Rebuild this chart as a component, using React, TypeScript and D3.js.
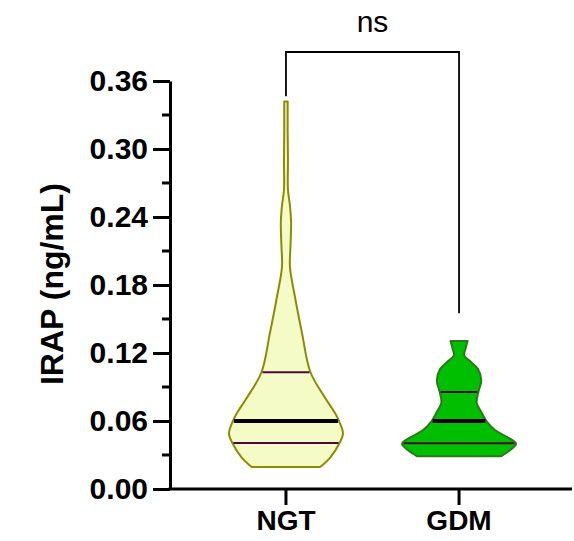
import { useEffect, useRef } from "react";
import * as d3 from "d3";

// groups on the x axis
const groups = ["NGT", "GDM"];

// y axis ticks
const majorTicks = [0, 0.06, 0.12, 0.18, 0.24, 0.3, 0.36];
const minorTicks = [0.03, 0.09, 0.15, 0.21, 0.27, 0.33];

// violin outlines: value and relative half-width
const ngtValues = [0.0194, 0.028, 0.0406, 0.049, 0.06, 0.067, 0.081, 0.103, 0.138, 0.169, 0.196, 0.215, 0.235, 0.25, 0.264, 0.29, 0.315, 0.342];
const ngtWidths = [0.6, 0.78, 0.94, 1.0, 0.93, 0.86, 0.68, 0.43, 0.28, 0.16, 0.07, 0.08, 0.09, 0.07, 0.035, 0.035, 0.03, 0.03];

const gdmValues = [0.029, 0.0344, 0.04, 0.046, 0.052, 0.06, 0.068, 0.076, 0.0856, 0.096, 0.106, 0.112, 0.118, 0.123, 0.1306];
const gdmWidths = [0.74, 0.9, 1.0, 0.84, 0.63, 0.48, 0.39, 0.31, 0.34, 0.39, 0.33, 0.21, 0.09, 0.11, 0.15];

// quartiles [Q1, median, Q3]
const ngtQuartiles = [0.0406, 0.06, 0.103];
const gdmQuartiles = [0.0404, 0.06, 0.0856];

const colors = {
  NGT: { fill: "#f4fbc6", stroke: "#8c8c00" },
  GDM: { fill: "#00bf00", stroke: "#2a7a1a" },
};

const font = "'Liberation Sans', Arial, sans-serif";

const App = () => {
  const svgRef = useRef(null);

  useEffect(() => {
    const width = 574;
    const height = 541;
    const margin = { top: 81, right: 2, bottom: 52, left: 170 };
    const innerHeight = height - margin.top - margin.bottom;

    d3.select(svgRef.current).selectAll("*").remove();
    const svg = d3.select(svgRef.current).attr("width", width).attr("height", height);

    const y = d3.scaleLinear().domain([0, 0.36]).range([margin.top + innerHeight, margin.top]);
    const x = d3
      .scalePoint()
      .domain(groups)
      .range([margin.left, 575])
      .padding(0.67);

    const halfW = 57;

    const violins = [
      { name: "NGT", values: ngtValues, widths: ngtWidths, q: ngtQuartiles },
      { name: "GDM", values: gdmValues, widths: gdmWidths, q: gdmQuartiles },
    ];

    violins.forEach((v) => {
      const cx = x(v.name);
      const pts = v.values.map((val, i) => ({ val, w: v.widths[i] }));
      const area = d3
        .area()
        .y((d) => y(d.val))
        .x0((d) => cx - d.w * halfW)
        .x1((d) => cx + d.w * halfW)
        .curve(d3.curveCatmullRom.alpha(0.5));

      svg
        .append("path")
        .datum(pts)
        .attr("d", area)
        .attr("fill", colors[v.name].fill)
        .attr("stroke", colors[v.name].stroke)
        .attr("stroke-width", 2)
        .attr("stroke-linejoin", "round");

      // width of violin at a value (linear interp of the outline)
      const widthAt = d3.scaleLinear().domain(v.values).range(v.widths);

      v.q.forEach((qv, i) => {
        const w = widthAt(qv) * halfW - 1;
        svg
          .append("line")
          .attr("x1", cx - w)
          .attr("x2", cx + w)
          .attr("y1", y(qv))
          .attr("y2", y(qv))
          .attr("stroke", i === 1 ? "#000" : "#4a0a40")
          .attr("stroke-width", i === 1 ? 4 : 2);
      });
    });

    // y axis
    const yAxis = svg.append("g").attr("transform", `translate(${margin.left},0)`);
    yAxis
      .call(d3.axisLeft(y).tickValues(majorTicks).tickSize(17).tickSizeOuter(0).tickFormat(d3.format(".2f")))
      .call((g) => g.select(".domain").attr("stroke-width", 3))
      .call((g) => g.selectAll(".tick line").attr("stroke-width", 3))
      .call((g) =>
        g
          .selectAll("text")
          .attr("x", -22)
          .style("font-family", font)
          .style("font-weight", "bold")
          .style("font-size", "30px")
          .attr("fill", "#000")
      );
    yAxis
      .selectAll(".minor")
      .data(minorTicks)
      .enter()
      .append("line")
      .attr("x1", -8)
      .attr("x2", 0)
      .attr("y1", (d) => y(d))
      .attr("y2", (d) => y(d))
      .attr("stroke", "#000")
      .attr("stroke-width", 3);

    // x axis
    const xAxis = svg.append("g").attr("transform", `translate(0,${y(0)})`);
    xAxis
      .append("line")
      .attr("x1", margin.left - 1.5)
      .attr("x2", width - margin.right)
      .attr("stroke", "#000")
      .attr("stroke-width", 3);
    xAxis
      .selectAll(".xt")
      .data(groups)
      .enter()
      .append("line")
      .attr("x1", (d) => x(d))
      .attr("x2", (d) => x(d))
      .attr("y1", 0)
      .attr("y2", 16)
      .attr("stroke", "#000")
      .attr("stroke-width", 3);
    xAxis
      .selectAll(".xl")
      .data(groups)
      .enter()
      .append("text")
      .attr("x", (d) => x(d))
      .attr("y", 41)
      .attr("text-anchor", "middle")
      .style("font-family", font)
      .style("font-weight", "bold")
      .style("font-size", "28px")
      .text((d) => d);

    // y axis title
    svg
      .append("text")
      .attr("transform", `translate(63,${y(0.18) - 1}) rotate(-90)`)
      .attr("text-anchor", "middle")
      .style("font-family", font)
      .style("font-weight", "bold")
      .style("font-size", "32px")
      .text("IRAP (ng/mL)");

    // significance bracket
    const x1 = x("NGT");
    const x2 = x("GDM");
    const top = 52;
    svg
      .append("path")
      .attr("d", `M${x1},${y(0.3466)}V${top}H${x2}V${y(0.155)}`)
      .attr("fill", "none")
      .attr("stroke", "#000")
      .attr("stroke-width", 1.8);
    svg
      .append("text")
      .attr("x", (x1 + x2) / 2)
      .attr("y", 32)
      .attr("text-anchor", "middle")
      .style("font-family", font)
      .style("font-size", "30px")
      .text("ns");
  }, []);

  return (
    <div style={{ position: "absolute", left: 0, top: 0 }}>
      <svg ref={svgRef}></svg>
    </div>
  );
};

export default App;
